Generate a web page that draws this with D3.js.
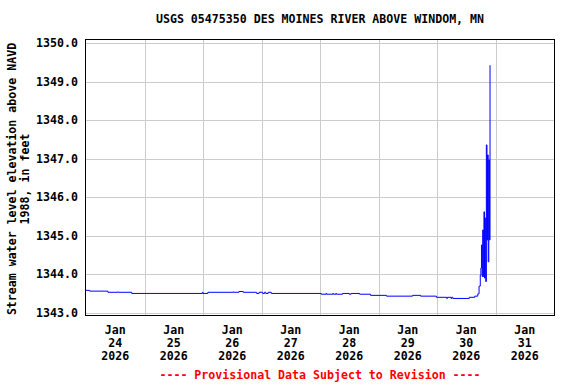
<!DOCTYPE html>
<html>
<head>
<meta charset="utf-8">
<script src="https://cdn.jsdelivr.net/npm/d3@7"></script>
<style>
  html, body { margin: 0; padding: 0; background: #fff; }
  svg { display: block; }
  text { font-family: "DejaVu Sans Mono", "Liberation Mono", monospace; font-weight: bold; font-size: 11.6px; }
</style>
</head>
<body>
<svg id="chart" width="576" height="384"></svg>
<script>
// ---- Data (step changes of 15-min gage heights) ----
const title = "USGS 05475350 DES MOINES RIVER ABOVE WINDOM, MN";
const yLabelLines = ["Stream water level elevation above NAVD", "1988, in feet"];
const footer = "---- Provisional Data Subject to Revision ----";

const yTicks = [1343, 1344, 1345, 1346, 1347, 1348, 1349, 1350];
const xGridDays = ["2026-01-25", "2026-01-26", "2026-01-27", "2026-01-28", "2026-01-29", "2026-01-30", "2026-01-31"];
const xLabelDays = ["2026-01-24", "2026-01-25", "2026-01-26", "2026-01-27", "2026-01-28", "2026-01-29", "2026-01-30", "2026-01-31"];

const obsTimes = [
  "2026-01-24T00:00", "2026-01-24T01:30", "2026-01-24T09:00", "2026-01-24T13:00", "2026-01-24T13:15",
  "2026-01-24T18:45", "2026-01-25T23:45", "2026-01-26T00:00", "2026-01-26T02:00", "2026-01-26T12:30",
  "2026-01-26T12:45", "2026-01-26T14:45", "2026-01-26T16:30", "2026-01-26T22:00", "2026-01-26T23:00",
  "2026-01-27T00:30", "2026-01-27T01:15", "2026-01-27T01:45", "2026-01-27T02:45", "2026-01-27T04:00",
  "2026-01-28T00:30", "2026-01-28T02:30", "2026-01-28T02:45", "2026-01-28T05:15", "2026-01-28T05:30",
  "2026-01-28T06:30", "2026-01-28T06:45", "2026-01-28T09:15", "2026-01-28T12:00", "2026-01-28T12:45",
  "2026-01-28T16:15", "2026-01-28T20:45", "2026-01-29T03:15", "2026-01-29T14:00", "2026-01-29T17:15",
  "2026-01-29T23:45", "2026-01-30T04:00", "2026-01-30T04:15", "2026-01-30T05:45", "2026-01-30T06:00",
  "2026-01-30T06:30", "2026-01-30T13:15", "2026-01-30T15:30", "2026-01-30T16:30", "2026-01-30T16:45",
  "2026-01-30T17:00", "2026-01-30T17:15", "2026-01-30T17:30", "2026-01-30T17:45", "2026-01-30T18:00",
  "2026-01-30T18:15", "2026-01-30T18:30", "2026-01-30T18:45", "2026-01-30T19:00", "2026-01-30T19:15",
  "2026-01-30T19:30", "2026-01-30T19:45", "2026-01-30T20:00", "2026-01-30T20:15", "2026-01-30T20:30",
  "2026-01-30T20:45", "2026-01-30T21:00", "2026-01-30T21:15", "2026-01-30T21:30", "2026-01-30T21:45"
];
const obsValues = [
  1343.58, 1343.56, 1343.53, 1343.54, 1343.53,
  1343.50, 1343.53, 1343.50, 1343.53, 1343.54,
  1343.53, 1343.55, 1343.53, 1343.50, 1343.53,
  1343.50, 1343.53, 1343.50, 1343.53, 1343.50,
  1343.48, 1343.50, 1343.48, 1343.50, 1343.48,
  1343.50, 1343.48, 1343.50, 1343.48, 1343.50,
  1343.48, 1343.45, 1343.43, 1343.45, 1343.43,
  1343.40, 1343.37, 1343.40, 1343.37, 1343.40,
  1343.37, 1343.40, 1343.43, 1343.43, 1343.49,
  1343.49, 1343.69, 1343.69, 1343.98, 1344.16,
  1344.76, 1343.94, 1345.15, 1343.94, 1345.62,
  1343.90, 1345.46, 1343.81, 1347.36, 1344.89,
  1347.10, 1344.32, 1346.97, 1344.89, 1349.43
];

// ---- Layout ----
const svg = d3.select("#chart");
const plotL = 86, plotR = 554, plotT = 40, plotB = 316;
const parseT = d3.utcParse("%Y-%m-%dT%H:%M");
const parseD = d3.utcParse("%Y-%m-%d");

const x = d3.scaleUtc()
  .domain([parseD("2026-01-24"), parseD("2026-02-01")])
  .range([plotL, plotR]);
const y = d3.scaleLinear()
  .domain([1342.914, 1350.086])
  .range([plotB, plotT]);

const data = obsTimes.map((t, i) => ({ t: parseT(t), v: obsValues[i] }));

// gridlines
const grid = svg.append("g").attr("stroke", "#cccccc").attr("stroke-width", 1);
grid.selectAll("line.h").data(yTicks).join("line")
  .attr("x1", plotL).attr("x2", plotR)
  .attr("y1", d => Math.round(y(d)) + 0.5).attr("y2", d => Math.round(y(d)) + 0.5);
grid.selectAll("line.v").data(xGridDays).join("line")
  .attr("x1", d => Math.round(x(parseD(d))) + 0.5).attr("x2", d => Math.round(x(parseD(d))) + 0.5)
  .attr("y1", plotT).attr("y2", plotB);

// data line
const line = d3.line()
  .x(d => x(d.t))
  .y(d => y(d.v))
  .curve(d3.curveStepAfter);
svg.append("path")
  .datum(data)
  .attr("d", line)
  .attr("fill", "none")
  .attr("stroke", "#0000ff")
  .attr("stroke-width", 1);

// frame
svg.append("rect")
  .attr("x", plotL - 0.5).attr("y", plotT - 0.5)
  .attr("width", plotR - plotL + 1).attr("height", plotB - plotT)
  .attr("fill", "none").attr("stroke", "#000").attr("stroke-width", 1);

// y tick labels
svg.append("g").selectAll("text").data(yTicks).join("text")
  .attr("x", 78).attr("y", d => y(d) + 4)
  .attr("text-anchor", "end")
  .attr("fill", "#000")
  .text(d => d3.format(".1f")(d));

// x tick labels
const fmtMon = d3.utcFormat("%b"), fmtDay = d3.utcFormat("%d"), fmtYr = d3.utcFormat("%Y");
const xl = svg.append("g").selectAll("text").data(xLabelDays).join("text")
  .attr("text-anchor", "middle")
  .attr("fill", "#000")
  .attr("transform", d => `translate(${x(d3.utcHour.offset(parseD(d), 12))},0)`);
xl.append("tspan").attr("x", 0).attr("y", 334).text(d => fmtMon(parseD(d)));
xl.append("tspan").attr("x", 0).attr("y", 347).text(d => fmtDay(parseD(d)));
xl.append("tspan").attr("x", 0).attr("y", 360).text(d => fmtYr(parseD(d)));

// title
svg.append("text")
  .attr("x", (plotL + plotR) / 2).attr("y", 23)
  .attr("text-anchor", "middle").attr("fill", "#000")
  .text(title);

// y axis label
const yl = svg.append("text")
  .attr("transform", `translate(0,179) rotate(-90)`)
  .attr("text-anchor", "middle").attr("fill", "#000");
yl.append("tspan").attr("x", 0).attr("y", 16).text(yLabelLines[0]);
yl.append("tspan").attr("x", 0).attr("y", 29).text(yLabelLines[1]);

// footer
svg.append("text")
  .attr("x", (plotL + plotR) / 2).attr("y", 379)
  .attr("text-anchor", "middle").attr("fill", "#ff0000")
  .text(footer);
</script>
</body>
</html>
